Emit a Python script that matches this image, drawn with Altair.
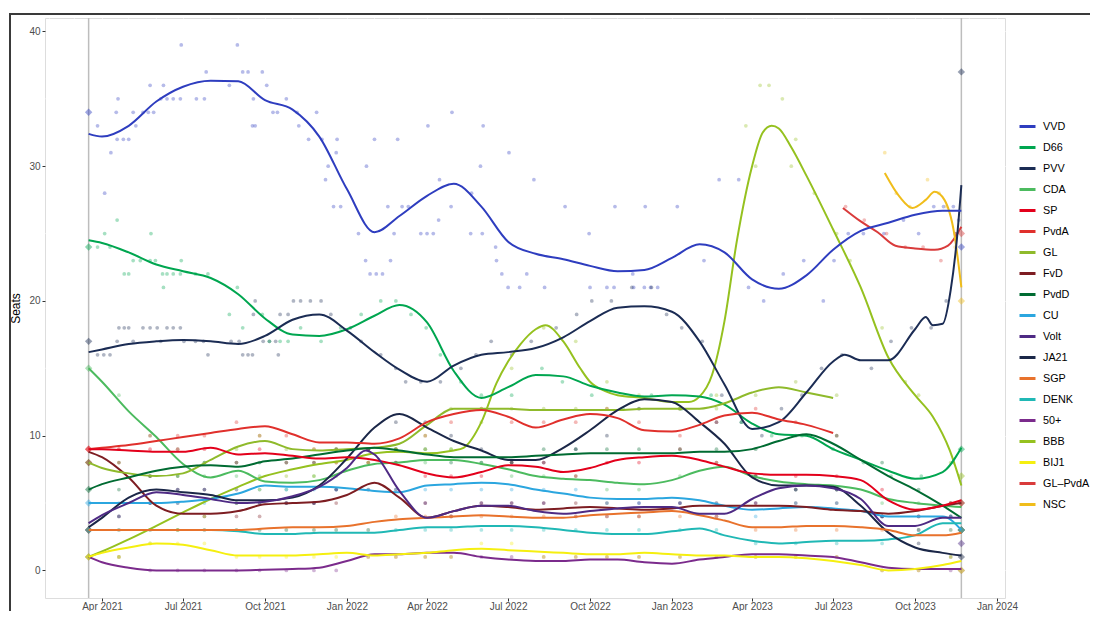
import altair as alt
import pandas as pd

PARTIES = ["VVD", "D66", "PVV", "CDA", "SP", "PvdA", "GL", "FvD", "PvdD", "CU",
           "Volt", "JA21", "SGP", "DENK", "50+", "BBB", "BIJ1", "GL–PvdA", "NSC"]
COLORS = ["#2e3dbf", "#00a650", "#1b2c54", "#4cbb5f", "#e3001b", "#e0302c", "#8fba2b",
          "#7d1d22", "#006b32", "#2ba6df", "#4e2a84", "#1b2748", "#e8722c", "#20b8b5",
          "#7b2b8c", "#95c11f", "#f5ef10", "#d93b3b", "#f0bd1b"]

# ---- smoothed trend lines ----
MONTHS = ["2021-03-17", "2021-04-01", "2021-05-01", "2021-06-01", "2021-07-01", "2021-08-01",
          "2021-09-01", "2021-10-01", "2021-11-01", "2021-12-01", "2022-01-01", "2022-02-01",
          "2022-03-01", "2022-04-01", "2022-05-01", "2022-06-01", "2022-07-01", "2022-08-01",
          "2022-09-01", "2022-10-01", "2022-11-01", "2022-12-01", "2023-01-01", "2023-02-01",
          "2023-03-01", "2023-04-01", "2023-05-01", "2023-06-01", "2023-07-01", "2023-08-01",
          "2023-09-01", "2023-10-01", "2023-11-01", "2023-11-22"]

trend_VVD = [32.4, 32.2, 33.0, 34.8, 35.9, 36.35, 36.3, 34.9, 34.2, 32.2, 28.3, 25.1, 26.3, 27.8,
             28.7, 27.0, 24.4, 23.5, 23.1, 22.6, 22.2, 22.3, 23.2, 24.2, 23.6, 21.6, 20.9, 21.9,
             23.8, 25.2, 25.8, 26.4, 26.7, 26.7]
trend_D66 = [24.5, 24.3, 23.6, 22.7, 22.2, 21.7, 20.5, 18.7, 17.5, 17.4, 17.9, 18.9, 19.7, 18.4,
             14.8, 12.8, 13.6, 14.5, 14.4, 13.7, 13.2, 12.9, 13.0, 12.9, 12.3, 10.9, 10.1, 10.0,
             9.0, 8.2, 7.4, 6.8, 7.3, 9.1]
trend_PVV = [16.2, 16.4, 16.8, 17.0, 17.1, 17.0, 16.8, 17.4, 18.6, 19.0, 17.8, 16.2, 14.9, 14.0,
             15.2, 16.0, 16.2, 16.5, 17.3, 18.5, 19.5, 19.6, 19.2, 17.0, 13.8, 10.5, 11.0, 13.2,
             15.5, 15.6, 15.6, 17.9, 18.3, 28.6]
trend_CDA = [15.0, 14.0, 11.8, 9.9, 7.9, 6.9, 7.4, 6.6, 6.5, 6.7, 7.4, 7.9, 8.0, 8.2, 8.2, 7.9,
             7.5, 7.0, 6.8, 6.7, 6.5, 6.4, 6.7, 7.4, 7.7, 7.0, 6.6, 6.4, 6.3, 6.0, 5.3, 5.0, 4.8, 4.7]
trend_SP = [9.0, 9.0, 8.9, 8.8, 8.8, 9.1, 8.6, 8.7, 8.5, 8.3, 8.4, 8.2, 7.8, 7.2, 6.9, 7.3, 7.8,
            7.7, 7.3, 7.6, 8.2, 8.4, 8.5, 8.2, 7.7, 7.2, 7.1, 7.1, 7.0, 6.7, 5.2, 4.5, 4.8, 5.2]
trend_PvdA = [9.0, 9.1, 9.3, 9.6, 9.9, 10.2, 10.5, 10.7, 10.1, 9.5, 9.5, 9.4, 9.8, 11.0, 11.6,
              11.9, 11.4, 10.6, 11.2, 11.6, 11.3, 10.4, 10.3, 10.8, 11.5, 11.7, 11.2, 10.8, 10.2]
trend_GL = [8.0, 7.6, 7.2, 7.0, 7.2, 8.2, 9.2, 9.6, 9.0, 8.9, 9.0, 9.1, 9.4, 10.8, 12.0, 12.0,
            12.0, 11.9, 11.9, 11.9, 11.9, 12.0, 12.0, 12.0, 12.4, 13.2, 13.6, 13.2, 12.8]
trend_FvD = [8.8, 8.4, 6.9, 4.8, 4.2, 4.2, 4.4, 4.9, 5.0, 5.1, 5.6, 6.5, 5.4, 3.9, 4.4, 4.8, 4.7,
             4.5, 4.6, 4.7, 4.6, 4.5, 4.6, 4.8, 4.8, 4.8, 4.8, 4.7, 4.5, 4.4, 4.2, 4.4, 4.8, 5.0]
trend_PvdD = [6.0, 6.4, 6.9, 7.4, 7.7, 7.8, 7.7, 8.1, 8.3, 8.6, 8.9, 9.1, 8.9, 8.6, 8.4, 8.4, 8.4,
              8.5, 8.6, 8.7, 8.7, 8.7, 8.7, 8.8, 8.8, 9.0, 9.6, 10.1, 9.4, 8.2, 7.0, 6.0, 4.8, 3.9]
trend_CU = [5.0, 5.0, 5.0, 5.0, 5.1, 5.3, 5.7, 6.3, 6.2, 6.2, 6.1, 5.9, 5.8, 6.3, 6.4, 6.5, 6.4,
            6.0, 5.7, 5.4, 5.3, 5.3, 5.4, 5.2, 4.8, 4.5, 4.6, 4.7, 4.6, 4.4, 4.0, 4.0, 4.0, 3.0]
trend_Volt = [3.5, 4.1, 5.0, 5.8, 5.6, 5.3, 5.0, 5.1, 5.5, 6.2, 7.6, 8.6, 5.9, 3.9, 4.4, 4.8, 4.8,
              4.4, 4.2, 4.4, 4.6, 4.7, 4.7, 4.2, 4.2, 5.3, 6.1, 6.3, 6.1, 5.3, 3.3, 3.3, 3.9, 3.9]
trend_JA21 = [3.2, 3.9, 5.4, 6.0, 5.8, 5.6, 5.2, 5.2, 5.4, 6.3, 8.3, 10.6, 11.6, 10.6, 9.6, 8.9,
              8.2, 8.2, 9.1, 10.4, 11.9, 12.7, 12.5, 11.0, 9.4, 6.9, 6.3, 6.3, 6.2, 4.8, 2.8, 1.7,
              1.3, 1.1]
trend_SGP = [3.0, 3.0, 3.0, 3.0, 3.0, 3.0, 3.0, 3.1, 3.2, 3.2, 3.3, 3.6, 3.8, 3.9, 4.0, 4.1, 4.0,
             3.9, 3.9, 4.1, 4.2, 4.3, 4.4, 4.1, 3.7, 3.2, 3.2, 3.3, 3.3, 3.2, 3.0, 2.6, 2.6, 2.8]
trend_DENK = [3.0, 3.0, 3.0, 3.0, 3.0, 3.0, 2.9, 2.7, 2.7, 2.8, 2.8, 2.8, 3.0, 3.2, 3.2, 3.3, 3.3,
              3.2, 3.0, 2.8, 2.7, 2.7, 2.9, 3.1, 2.6, 2.2, 2.0, 2.1, 2.2, 2.2, 2.3, 2.6, 3.5, 3.5]
trend_50plus = [1.0, 0.6, 0.2, 0.0, 0.0, 0.0, 0.0, 0.05, 0.1, 0.2, 0.7, 1.2, 1.2, 1.3, 1.3, 1.0,
                0.8, 0.7, 0.7, 0.8, 0.8, 0.6, 0.5, 0.8, 1.0, 1.2, 1.2, 1.1, 1.0, 0.6, 0.2, 0.1,
                0.1, 0.1]
trend_BIJ1 = [1.0, 1.3, 1.7, 2.0, 1.9, 1.5, 1.1, 1.1, 1.1, 1.2, 1.3, 1.1, 1.2, 1.3, 1.5, 1.6, 1.5,
              1.4, 1.3, 1.2, 1.2, 1.3, 1.2, 1.1, 1.1, 1.0, 1.0, 0.9, 0.7, 0.4, 0.0, 0.1, 0.4, 0.7]

# extra detail on some curves
pvv_extra = [("2023-07-14", 16.0), ("2023-10-13", 18.8), ("2023-10-21", 18.2),
             ("2023-11-10", 20.8), ("2023-11-17", 24.6)]
volt_extra = [("2022-01-22", 8.9)]

bbb_trend = [("2021-03-17", 1.0), ("2021-04-01", 1.4), ("2021-05-01", 2.3), ("2021-06-01", 3.3),
             ("2021-07-01", 4.3), ("2021-08-01", 5.3), ("2021-09-01", 6.2), ("2021-10-01", 7.0),
             ("2021-11-01", 7.5), ("2021-12-01", 7.9), ("2022-01-01", 8.2), ("2022-02-01", 8.7),
             ("2022-03-01", 8.8), ("2022-04-01", 8.7), ("2022-05-01", 8.9), ("2022-05-12", 9.1),
             ("2022-06-01", 11.0), ("2022-06-18", 13.9), ("2022-07-01", 15.5), ("2022-07-15", 16.8),
             ("2022-08-01", 17.9), ("2022-08-12", 18.2), ("2022-09-01", 17.0), ("2022-09-20", 15.0),
             ("2022-10-01", 14.0), ("2022-10-18", 13.3), ("2022-11-01", 13.0), ("2022-12-01", 12.8),
             ("2023-01-01", 12.5), ("2023-01-20", 12.5), ("2023-02-01", 12.9), ("2023-02-15", 14.5),
             ("2023-03-01", 18.5), ("2023-03-15", 24.5), ("2023-04-01", 30.0), ("2023-04-13", 32.5),
             ("2023-04-23", 33.0), ("2023-05-01", 32.8), ("2023-05-15", 31.4), ("2023-06-01", 29.3),
             ("2023-07-01", 25.3), ("2023-08-01", 21.0), ("2023-09-01", 15.8), ("2023-10-01", 13.0),
             ("2023-10-21", 11.4), ("2023-11-09", 8.9), ("2023-11-22", 6.3)]
glpvda_trend = [("2023-07-12", 26.9), ("2023-08-01", 25.9), ("2023-08-20", 25.1), ("2023-09-09", 24.1),
                ("2023-10-01", 23.9), ("2023-10-23", 23.8), ("2023-11-07", 24.1), ("2023-11-22", 25.5)]
nsc_trend = [("2023-08-28", 29.5), ("2023-09-14", 27.7), ("2023-09-28", 26.9), ("2023-10-13", 27.5),
             ("2023-10-23", 28.1), ("2023-11-03", 27.5), ("2023-11-14", 25.0), ("2023-11-22", 21.0)]

# ---- individual polls ----
vvd_polls = [("2021-03-27", 33), ("2021-04-04", 28), ("2021-04-11", 31), ("2021-04-17", 34),
             ("2021-04-19", 35), ("2021-04-18", 32), ("2021-04-25", 32), ("2021-05-01", 32),
             ("2021-05-06", 34), ("2021-05-09", 33), ("2021-05-17", 34), ("2021-05-23", 34),
             ("2021-05-29", 34), ("2021-05-25", 36), ("2021-06-06", 35), ("2021-06-13", 35),
             ("2021-06-20", 35), ("2021-06-28", 35), ("2021-06-09", 36), ("2021-06-29", 39),
             ("2021-07-16", 35), ("2021-07-25", 35), ("2021-07-27", 37), ("2021-08-22", 36),
             ("2021-08-31", 39), ("2021-09-06", 37), ("2021-09-12", 37), ("2021-09-17", 33),
             ("2021-09-20", 33), ("2021-09-18", 35), ("2021-09-28", 37), ("2021-10-03", 36),
             ("2021-10-10", 34), ("2021-10-15", 34), ("2021-10-25", 35), ("2021-11-06", 34),
             ("2021-11-08", 33), ("2021-11-28", 34), ("2021-11-19", 32), ("2021-12-04", 32),
             ("2021-12-21", 32), ("2021-12-20", 31), ("2021-12-11", 30), ("2021-12-08", 29),
             ("2021-12-17", 27), ("2021-12-25", 27), ("2022-01-14", 25), ("2022-01-23", 30),
             ("2022-02-01", 32), ("2022-02-27", 32), ("2022-01-22", 23), ("2022-02-19", 23),
             ("2022-01-27", 22), ("2022-02-03", 22), ("2022-02-10", 22), ("2022-02-16", 27),
             ("2022-03-04", 27), ("2022-03-11", 27), ("2022-02-23", 25), ("2022-03-25", 25),
             ("2022-04-01", 25), ("2022-04-08", 25), ("2022-04-02", 33), ("2022-04-14", 26),
             ("2022-04-15", 29), ("2022-04-29", 34), ("2022-04-28", 27), ("2022-05-20", 25),
             ("2022-06-02", 25), ("2022-05-21", 28), ("2022-05-31", 30), ("2022-06-03", 33),
             ("2022-06-17", 24), ("2022-06-18", 23), ("2022-06-24", 22), ("2022-07-01", 21),
             ("2022-07-02", 31), ("2022-07-14", 21), ("2022-07-22", 22), ("2022-07-30", 29),
             ("2022-08-11", 21), ("2022-09-03", 27), ("2022-09-30", 25), ("2022-10-01", 21),
             ("2022-10-20", 21), ("2022-10-28", 21), ("2022-10-29", 27), ("2022-11-18", 22),
             ("2022-11-19", 21), ("2022-12-01", 21), ("2022-12-08", 21), ("2022-12-16", 21),
             ("2022-12-02", 27), ("2023-01-07", 27), ("2023-02-06", 23), ("2023-02-23", 29),
             ("2023-03-17", 29), ("2023-03-28", 21), ("2023-04-14", 20), ("2023-05-06", 22),
             ("2023-05-29", 23), ("2023-06-20", 20), ("2023-07-02", 23), ("2023-07-18", 25),
             ("2023-08-04", 25), ("2023-08-27", 25), ("2023-09-18", 26), ("2023-10-05", 25),
             ("2023-10-22", 27), ("2023-11-02", 27), ("2023-11-13", 27), ("2023-11-19", 26)]
pvv_polls = [("2021-03-27", 16), ("2021-04-03", 16), ("2021-04-10", 16), ("2021-04-18", 17),
             ("2021-04-20", 18), ("2021-04-26", 18), ("2021-05-01", 18), ("2021-05-17", 18),
             ("2021-05-25", 18), ("2021-06-02", 18), ("2021-05-06", 17), ("2021-06-06", 17),
             ("2021-06-13", 18), ("2021-06-20", 18), ("2021-06-28", 18), ("2021-07-02", 17),
             ("2021-07-15", 17), ("2021-07-24", 17), ("2021-07-29", 16), ("2021-08-24", 17),
             ("2021-09-02", 17), ("2021-09-06", 16), ("2021-09-12", 16), ("2021-09-17", 16),
             ("2021-09-20", 20), ("2021-09-29", 17), ("2021-10-06", 17), ("2021-10-13", 17),
             ("2021-10-16", 16), ("2021-09-18", 19), ("2021-10-18", 19), ("2021-10-27", 19),
             ("2021-11-02", 20), ("2021-11-10", 20), ("2021-11-21", 20), ("2021-12-03", 20),
             ("2021-12-14", 19), ("2022-01-05", 18), ("2022-01-17", 17), ("2022-02-08", 16),
             ("2022-02-25", 15), ("2022-03-08", 14), ("2022-03-25", 14), ("2022-04-16", 14),
             ("2022-05-09", 15), ("2022-05-26", 16), ("2022-06-12", 17), ("2022-07-05", 16),
             ("2022-07-27", 17), ("2022-08-24", 18), ("2022-09-16", 19), ("2022-10-03", 20),
             ("2022-10-25", 20), ("2022-11-17", 21), ("2022-12-09", 21), ("2022-12-26", 19),
             ("2023-01-12", 18), ("2023-02-04", 17), ("2023-02-26", 13), ("2023-03-20", 11),
             ("2023-04-12", 10), ("2023-05-04", 12), ("2023-05-27", 13), ("2023-06-18", 15),
             ("2023-07-11", 16), ("2023-08-13", 15), ("2023-09-04", 17), ("2023-09-27", 18),
             ("2023-10-19", 18), ("2023-11-05", 20), ("2023-11-16", 25)]
d66_polls = [("2021-03-27", 24), ("2021-04-04", 25), ("2021-04-18", 26), ("2021-04-10", 24),
             ("2021-05-06", 23), ("2021-05-14", 23), ("2021-04-26", 22), ("2021-05-01", 22),
             ("2021-05-25", 23), ("2021-05-31", 23), ("2021-05-26", 25), ("2021-06-09", 21),
             ("2021-06-08", 22), ("2021-06-13", 22), ("2021-06-20", 22), ("2021-06-28", 22),
             ("2021-06-29", 23), ("2021-07-15", 22), ("2021-07-29", 22), ("2021-08-31", 21),
             ("2021-08-22", 19), ("2021-09-06", 18), ("2021-09-28", 19), ("2021-10-06", 17),
             ("2021-10-18", 17), ("2021-10-27", 17), ("2021-11-10", 18), ("2021-12-03", 17),
             ("2021-12-25", 18), ("2022-01-17", 19), ("2022-02-08", 20), ("2022-02-25", 20),
             ("2022-03-14", 19), ("2022-03-31", 18), ("2022-04-16", 16), ("2022-05-09", 14),
             ("2022-06-01", 13), ("2022-07-05", 13), ("2022-08-08", 15), ("2022-08-31", 14),
             ("2022-10-03", 13), ("2022-11-07", 12), ("2022-12-09", 13), ("2023-01-12", 12),
             ("2023-02-14", 13), ("2023-03-20", 11), ("2023-04-23", 10), ("2023-05-27", 10),
             ("2023-07-01", 9), ("2023-08-04", 8), ("2023-09-04", 7), ("2023-10-08", 7),
             ("2023-11-13", 8)]
bbb_extra_polls = [("2023-03-25", 33), ("2023-04-10", 36), ("2023-04-20", 36), ("2023-05-05", 35),
                   ("2023-05-15", 30), ("2023-06-10", 28), ("2023-07-20", 23), ("2023-09-20", 14)]
nsc_polls = [("2023-08-28", 31), ("2023-09-10", 28), ("2023-09-25", 27), ("2023-10-15", 29),
             ("2023-10-28", 28), ("2023-11-05", 27), ("2023-11-15", 24)]
glpvda_polls = [("2023-07-15", 27), ("2023-08-05", 26), ("2023-08-30", 25), ("2023-09-20", 24),
                ("2023-10-10", 24), ("2023-10-30", 23), ("2023-11-15", 25)]

POLL_DATES = ["2021-04-20", "2021-05-25", "2021-06-25", "2021-07-25", "2021-08-30", "2021-09-25",
              "2021-10-25", "2021-11-25", "2021-12-20", "2022-01-25", "2022-02-25", "2022-03-30",
              "2022-04-28", "2022-06-01", "2022-07-05", "2022-08-10", "2022-09-15", "2022-10-20",
              "2022-11-25", "2023-01-10", "2023-02-20", "2023-04-05", "2023-05-20", "2023-07-05",
              "2023-08-25", "2023-10-05", "2023-11-10"]
polls_CDA = [13, 10, 9, 7, 7, 7, 6, 7, 7, 8, 8, 8, 9, 8, 7, 7, 7, 6, 6, 7, 8, 7, 6, 6, 5, 5, 5]
polls_SP = [9, 9, 9, 9, 8, 9, 8, 8, 8, 8, 8, 7, 7, 7, 8, 8, 7, 8, 8, 9, 8, 7, 7, 7, 6, 4, 5]
polls_PvdA = [9, 10, 10, 10, 11, 10, 10, 9, 9, 9, 9, 10, 11, 12, 11, 11, 11, 12, 11, 10, 11, 12,
              11, 10, None, None, None]
polls_GL = [8, 7, 7, 8, 9, 10, 9, 9, 9, 9, 9, 10, 12, 12, 12, 12, 12, 12, 12, 12, 12, 13, 14, 13,
            None, None, None]
polls_FvD = [8, 7, 5, 4, 4, 4, 5, 5, 5, 6, 6, 5, 4, 5, 5, 5, 5, 5, 4, 5, 5, 5, 5, 5, 4, 4, 5]
polls_PvdD = [6, 7, 7, 8, 8, 8, 8, 8, 9, 9, 9, 9, 8, 8, 8, 9, 9, 9, 9, 9, 9, 9, 10, 10, 8, 6, 4]
polls_CU = [5, 5, 5, 5, 5, 6, 6, 6, 6, 6, 6, 6, 6, 6, 6, 6, 6, 5, 5, 5, 5, 4, 5, 5, 4, 4, 4]
polls_Volt = [4, 5, 6, 6, 5, 5, 5, 5, 6, 9, 8, 5, 4, 5, 5, 5, 4, 4, 5, 5, 4, 5, 6, 6, 4, 3, 4]
polls_JA21 = [4, 5, 6, 6, 6, 5, 5, 5, 6, 9, 11, 11, 10, 9, 8, 8, 9, 10, 12, 12, 11, 7, 6, 6, 4, 2, 1]
polls_SGP = [3, 3, 3, 3, 3, 3, 3, 3, 3, 3, 4, 4, 4, 4, 4, 4, 4, 4, 4, 4, 4, 3, 3, 3, 3, 3, 3]
polls_DENK = [3, 3, 3, 3, 3, 3, 3, 3, 3, 3, 3, 3, 3, 3, 3, 3, 3, 3, 3, 3, 3, 2, 2, 2, 2, 3, 3]
polls_50plus = [1, 0, 0, 0, 0, 0, 0, 0, 0, 1, 1, 1, 1, 1, 1, 1, 1, 1, 1, 1, 1, 1, 1, 1, 0, 0, 0]
polls_BBB = [1, 2, 3, 4, 5, 6, 7, 7, 8, 8, 9, 9, 9, 11, 15, 18, 17, 14, 13, 12, 13, 30, 32, 25, 18,
             13, 8]
polls_BIJ1 = [1, 2, 2, 2, 1, 1, 1, 1, 1, 1, 1, 1, 1, 2, 2, 1, 1, 1, 1, 1, 1, 1, 1, 1, 0, 0, 1]

# ---- election results ----
ELECTION_DATES = ["2021-03-17", "2023-11-22"]
result_2021 = {"VVD": 34, "D66": 24, "PVV": 17, "CDA": 15, "SP": 9, "PvdA": 9, "GL": 8, "FvD": 8,
               "PvdD": 6, "CU": 5, "Volt": 3, "JA21": 3, "SGP": 3, "DENK": 3, "50+": 1, "BBB": 1,
               "BIJ1": 1}
result_2023 = {"PVV": 37, "GL–PvdA": 25, "VVD": 24, "NSC": 20, "D66": 9, "BBB": 7, "CDA": 5,
               "SP": 5, "FvD": 3, "PvdD": 3, "CU": 3, "SGP": 3, "DENK": 3, "Volt": 2, "JA21": 1,
               "50+": 0, "BIJ1": 0}

# ---- axis breaks ----
MAJOR_X = ["2021-04-01", "2021-07-01", "2021-10-01", "2022-01-01", "2022-04-01", "2022-07-01",
           "2022-10-01", "2023-01-01", "2023-04-01", "2023-07-01", "2023-10-01", "2024-01-01"]
MINOR_X = ["2021-02-01", "2021-03-01", "2021-05-01", "2021-06-01", "2021-08-01", "2021-09-01",
           "2021-11-01", "2021-12-01", "2022-02-01", "2022-03-01", "2022-05-01", "2022-06-01",
           "2022-08-01", "2022-09-01", "2022-11-01", "2022-12-01", "2023-02-01", "2023-03-01",
           "2023-05-01", "2023-06-01", "2023-08-01", "2023-09-01", "2023-11-01", "2023-12-01"]
MAJOR_Y = [0, 10, 20, 30, 40]
MINOR_Y = [5, 15, 25, 35]

# ---------- build tables ----------
rows = []
monthly = {"VVD": trend_VVD, "D66": trend_D66, "PVV": trend_PVV, "CDA": trend_CDA, "SP": trend_SP,
           "PvdA": trend_PvdA, "GL": trend_GL, "FvD": trend_FvD, "PvdD": trend_PvdD, "CU": trend_CU,
           "Volt": trend_Volt, "JA21": trend_JA21, "SGP": trend_SGP, "DENK": trend_DENK,
           "50+": trend_50plus, "BIJ1": trend_BIJ1}
for p, vals in monthly.items():
    for d, v in zip(MONTHS, vals):
        rows.append((p, d, v))
for d, v in pvv_extra:
    rows.append(("PVV", d, v))
for d, v in volt_extra:
    rows.append(("Volt", d, v))
for p, lst in [("BBB", bbb_trend), ("GL–PvdA", glpvda_trend), ("NSC", nsc_trend)]:
    for d, v in lst:
        rows.append((p, d, v))
lines = pd.DataFrame(rows, columns=["party", "date", "seats"]).sort_values(["party", "date"])

prow = []
for p, lst in [("VVD", vvd_polls), ("PVV", pvv_polls), ("D66", d66_polls), ("BBB", bbb_extra_polls),
               ("NSC", nsc_polls), ("GL–PvdA", glpvda_polls)]:
    for d, v in lst:
        prow.append((p, d, v))
shared = {"CDA": polls_CDA, "SP": polls_SP, "PvdA": polls_PvdA, "GL": polls_GL, "FvD": polls_FvD,
          "PvdD": polls_PvdD, "CU": polls_CU, "Volt": polls_Volt, "JA21": polls_JA21,
          "SGP": polls_SGP, "DENK": polls_DENK, "50+": polls_50plus, "BBB": polls_BBB,
          "BIJ1": polls_BIJ1}
for p, vals in shared.items():
    for d, v in zip(POLL_DATES, vals):
        if v is not None:
            prow.append((p, d, v))
polls = pd.DataFrame(prow, columns=["party", "date", "seats"])

rrow = [(p, ELECTION_DATES[0], v) for p, v in result_2021.items()] + \
       [(p, ELECTION_DATES[1], v) for p, v in result_2023.items()]
results = pd.DataFrame(rrow, columns=["party", "date", "seats"])
elections = pd.DataFrame({"date": ELECTION_DATES})
minor_x = pd.DataFrame({"date": MINOR_X})
minor_y = pd.DataFrame({"seats": MINOR_Y})
frame_df = pd.DataFrame({"k": [0]})

# ---------- scales & axes ----------
FONT = "Liberation Sans"
W, H = 960, 580

def dt(s):
    y, m, d = (int(t) for t in s.split("-"))
    return alt.DateTime(year=y, month=m, date=d)

xscale = alt.Scale(domain=[dt("2021-01-27"), dt("2024-01-10")], nice=False)
yscale = alt.Scale(domain=[-2.05, 41.0], nice=False, zero=False)
xaxis = alt.Axis(values=[dt(s) for s in MAJOR_X], title=None, domain=False, labelOverlap=False,
                 format="%b %Y", gridColor="white", gridWidth=1.1, tickColor="#333333",
                 tickSize=3, labelFontSize=10, labelColor="#4d4d4d", labelFont=FONT,
                 labelPadding=0.5)
yaxis = alt.Axis(values=MAJOR_Y, title="Seats", domain=False, gridColor="white", gridWidth=1.1,
                 tickColor="#333333", tickSize=3, labelFontSize=10, labelColor="#4d4d4d",
                 labelFont=FONT, labelPadding=2, titleFont=FONT, titleFontSize=12,
                 titleFontWeight="normal", titleColor="black", titlePadding=6)
cscale = alt.Scale(domain=PARTIES, range=COLORS)
legend = alt.Legend(title=None, orient="none", legendX=973, legendY=99, symbolType="stroke",
                    symbolSize=256, symbolStrokeWidth=3, symbolOpacity=1, labelFontSize=10.8,
                    labelFont=FONT, labelColor="black", rowPadding=5, labelOffset=6,
                    labelLimit=200)
C = alt.Color("party:N", scale=cscale, legend=legend, sort=PARTIES)

X = alt.X("date:T", scale=xscale, axis=xaxis)
Y = alt.Y("seats:Q", scale=yscale, axis=yaxis)

grid_x = alt.Chart(minor_x).mark_rule(color="white", strokeWidth=0.5).encode(
    x=alt.X("date:T", scale=xscale, axis=xaxis))
grid_y = alt.Chart(minor_y).mark_rule(color="white", strokeWidth=0.5).encode(
    y=alt.Y("seats:Q", scale=yscale, axis=yaxis))

rules = alt.Chart(elections).mark_rule(color="#bdbdbd", strokeWidth=1.5).encode(
    x=alt.X("date:T", scale=xscale, axis=xaxis))

pts = alt.Chart(polls).mark_circle(size=14, opacity=0.35).encode(x=X, y=Y, color=C)

dia = alt.Chart(results).mark_point(shape="diamond", size=55, filled=True, opacity=0.45).encode(
    x=X, y=Y, color=C)

trend = alt.Chart(lines).mark_line(interpolate="monotone", strokeWidth=2).encode(
    x=X, y=Y, color=C, order=alt.Order("date:T"))

frame = alt.Chart(frame_df).mark_rect(filled=False, stroke="#3a3a3a", strokeWidth=2).encode(
    x=alt.value(-35), x2=alt.value(1100), y=alt.value(-4), y2=alt.value(700))

chart = alt.layer(grid_x, grid_y, rules, pts, dia, trend, frame).properties(
    width=W, height=H,
    autosize=alt.AutoSizeParams(type="none"),
    padding={"left": 37, "top": 10, "right": 85, "bottom": 13},
).configure_view(fill="#ebebeb", stroke=None).configure(font=FONT)

chart.save("out.html", embed_options={"renderer": "svg", "actions": False})
